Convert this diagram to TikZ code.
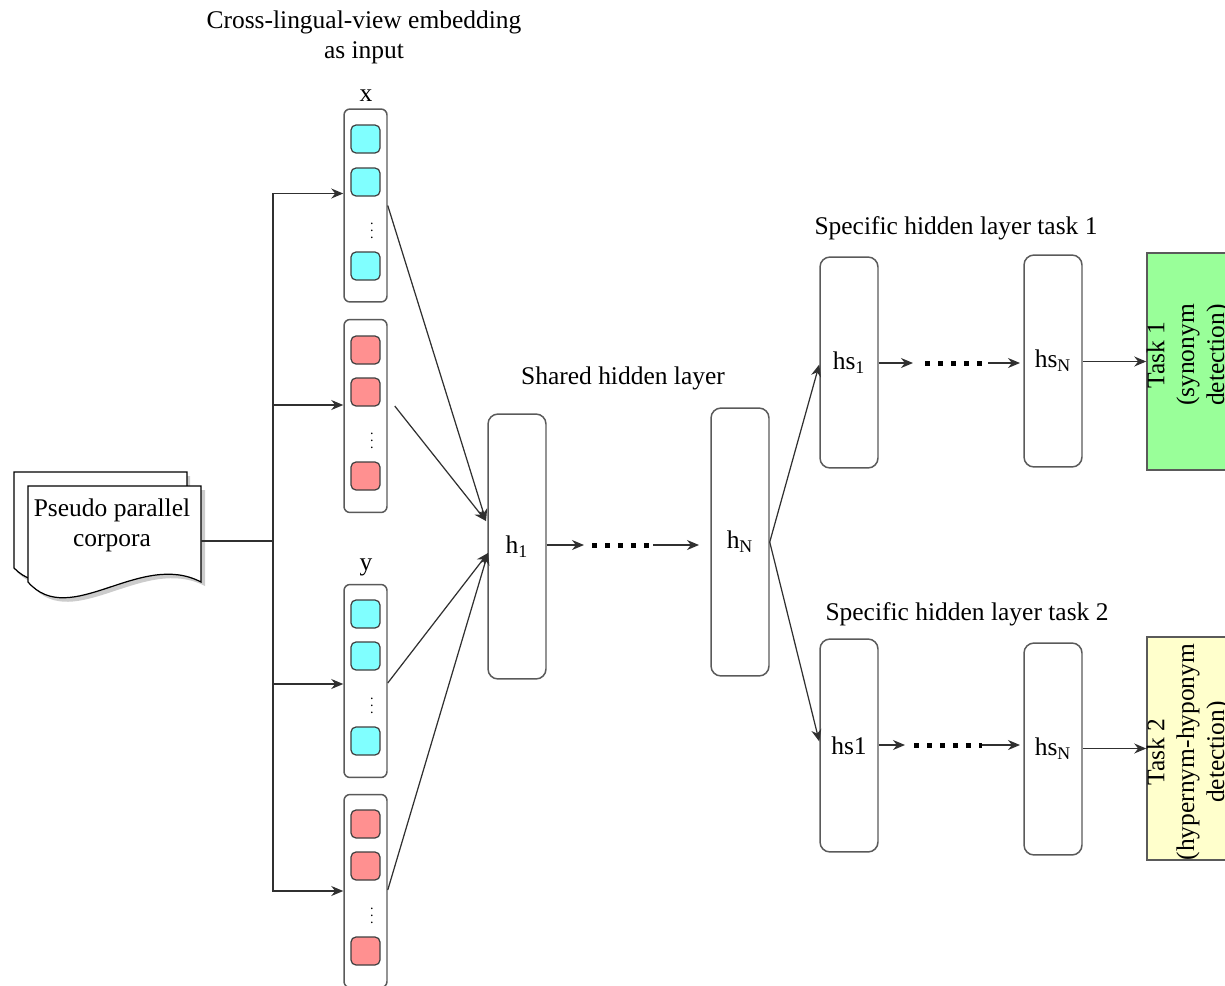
\documentclass[tikz,border=0pt]{standalone}
\usepackage{fontspec}
\setmainfont{Liberation Serif}
\usetikzlibrary{arrows.meta,calc}
\definecolor{boxgray}{HTML}{5A5A5A}
\definecolor{cellgray}{HTML}{404040}
\definecolor{linegray}{HTML}{303030}
\definecolor{cyanfill}{HTML}{80FFFF}
\definecolor{redfill}{HTML}{FF9090}
\definecolor{greenfill}{HTML}{99FF99}
\definecolor{yellowfill}{HTML}{FFFFCC}
\begin{document}
\begin{tikzpicture}[x=0.02cm,y=-0.02cm,
  every node/.style={font=\fontsize{14.5}{17}\selectfont},
  hbox/.style={draw=boxgray, line width=0.85pt, rounded corners=2mm, fill=white, inner sep=0pt, minimum width=1.16cm},
  vec/.style={draw=boxgray, line width=0.85pt, rounded corners=1.2mm, fill=white, minimum width=0.86cm, minimum height=3.86cm, inner sep=0pt},
  cell/.style={draw=cellgray, line width=0.7pt, rounded corners=1mm, minimum width=0.58cm, minimum height=0.56cm, inner sep=0pt},
  taskbox/.style={draw=boxgray, line width=0.85pt, minimum width=1.66cm, inner sep=0pt},
  vd/.style={font=\fontsize{8}{8}\selectfont, inner sep=0pt},
  arr/.style={-{Stealth[length=2.4mm,width=2mm]}, line width=0.7pt, draw=linegray},
  ln/.style={line width=0.75pt, draw=linegray},
  dotline/.style={line width=1mm, dash pattern=on 1mm off 1.6mm},
  docline/.style={draw=black, line width=0.7pt}
]
\useasboundingbox (0,0) rectangle (1225,985);
\clip (0,0) rectangle (1225,985);

% document shape (back page, then front page)
\fill[black!20] (17,476) -- (190,476) -- (190,572) .. controls (130,536) and (60,616) .. (17,572) -- cycle;
\draw[docline, fill=white] (14,472) -- (187,472) -- (187,568) .. controls (127,532) and (57,612) .. (14,568) -- cycle;
\fill[black!20] (32,490) -- (205,490) -- (205,586) .. controls (144,554) and (74,634) .. (32,586) -- cycle;
\draw[docline, fill=white] (28,486) -- (201,486) -- (201,582) .. controls (140,550) and (70,630) .. (28,582) -- cycle;
\node[align=center, inner sep=0pt] (doc) at (112,525) {Pseudo parallel\\corpora};
\coordinate (docR) at (201,541);
\coordinate (junc) at (273,541);

% title
\node[align=center, inner sep=0pt] (title) at (364,37) {Cross-lingual-view embedding\\as input};
\node[inner sep=0pt] (xlab) at (366,96) {x};
\node[inner sep=0pt] (ylab) at (366,567) {y};

% input vectors
\node[vec] (v1) at (365.5,205.5) {};
\node[cell, fill=cyanfill] (c11) at (365.5,139) {};
\node[cell, fill=cyanfill] (c12) at (365.5,182) {};
\node[vd] (d1) at (372,226) {$\vdots$};
\node[cell, fill=cyanfill] (c13) at (365.5,266) {};

\node[vec] (v2) at (365.5,416) {};
\node[cell, fill=redfill] (c21) at (365.5,350) {};
\node[cell, fill=redfill] (c22) at (365.5,392) {};
\node[vd] (d2) at (372,436) {$\vdots$};
\node[cell, fill=redfill] (c23) at (365.5,476) {};

\node[vec] (v3) at (365.5,681) {};
\node[cell, fill=cyanfill] (c31) at (365.5,614) {};
\node[cell, fill=cyanfill] (c32) at (365.5,656) {};
\node[vd] (d3) at (372,701) {$\vdots$};
\node[cell, fill=cyanfill] (c33) at (365.5,741) {};

\node[vec] (v4) at (365.5,891) {};
\node[cell, fill=redfill] (c41) at (365.5,824) {};
\node[cell, fill=redfill] (c42) at (365.5,866) {};
\node[vd] (d4) at (372,911) {$\vdots$};
\node[cell, fill=redfill] (c43) at (365.5,951) {};

% tree from corpus
\draw[ln] (docR) -- (junc);
\draw[arr] (junc) |- ($(v1.west)+(0,-12)$);
\draw[arr] (junc) |- ($(v2.west)+(0,-11)$);
\draw[arr] (junc) |- ($(v3.west)+(0,3)$);
\draw[arr] (junc) |- (v4.west);

% shared hidden layer
\node[hbox, minimum height=5.3cm] (h1) at (517,546.5) {$\mathrm{h_1}$};
\node[hbox, minimum height=5.36cm] (hN) at (740,542) {$\mathrm{h_N}$};
\node[inner sep=0pt] (shl) at (623,378) {Shared hidden layer};
\coordinate (h1a) at (486,521);
\coordinate (h1b) at (488,553);
\draw[arr] ($(v1.east)+(0,0)$) -- (h1a);
\draw[arr] ($(v2.east)+(7,-10)$) -- (h1a);
\draw[arr] ($(v3.east)+(0,2)$) -- (h1b);
\draw[arr] ($(v4.east)+(0,-1)$) -- (h1b);
\coordinate (s1) at (584,545);
\coordinate (s2) at (653,545);
\coordinate (s3) at (699,545);
\draw[arr] (h1.east |- s1) -- (s1);
\draw[dotline] (592,545) -- (s2);
\draw[arr] (s2) -- (s3);

% task 1 branch
\node[inner sep=0pt] (sl1) at (956,228) {Specific hidden layer task 1};
\node[hbox, minimum height=4.22cm] (hsa1) at (849,362.5) {$\mathrm{hs_1}$};
\node[hbox, minimum height=4.24cm] (hsaN) at (1053,361) {$\mathrm{hs_N}$};
\node[taskbox, fill=greenfill, minimum height=4.34cm] (task1) at (1188.5,361.5) {};
\node[rotate=90, align=center, inner sep=0pt] (t1txt) at (1188,355) {Task 1\\(synonym\\detection)};
\coordinate (a1) at (913,363);
\coordinate (a2) at (988,363);
\coordinate (a3) at (1020,363);
\draw[arr] (hN.east) -- ($(hsa1.west)+(0,2)$);
\draw[arr] (hsa1.east |- a1) -- (a1);
\draw[dotline] (925,363) -- (a2);
\draw[arr] (a2) -- (a3);
\draw[arr] (hsaN.east |- task1.west) -- (task1.west);

% task 2 branch
\node[inner sep=0pt] (sl2) at (967,614) {Specific hidden layer task 2};
\node[hbox, minimum height=4.26cm] (hsb1) at (849,745.5) {hs1};
\node[hbox, minimum height=4.24cm] (hsbN) at (1053,749) {$\mathrm{hs_N}$};
\node[taskbox, fill=yellowfill, minimum height=4.46cm] (task2) at (1188.5,748.5) {};
\node[rotate=90, align=center, inner sep=0pt] (t2txt) at (1188,752) {Task 2\\(hypernym-hyponym\\detection)};
\coordinate (b1) at (905,745);
\coordinate (b2) at (982,745);
\coordinate (b3) at (1020,745);
\draw[arr] (hN.east) -- ($(hsb1.west)+(0,-4)$);
\draw[arr] (hsb1.east |- b1) -- (b1);
\draw[dotline] (914,745) -- (b2);
\draw[arr] (b2) -- (b3);
\draw[arr] (hsbN.east |- task2.west) -- (task2.west);
\end{tikzpicture}
\end{document}
